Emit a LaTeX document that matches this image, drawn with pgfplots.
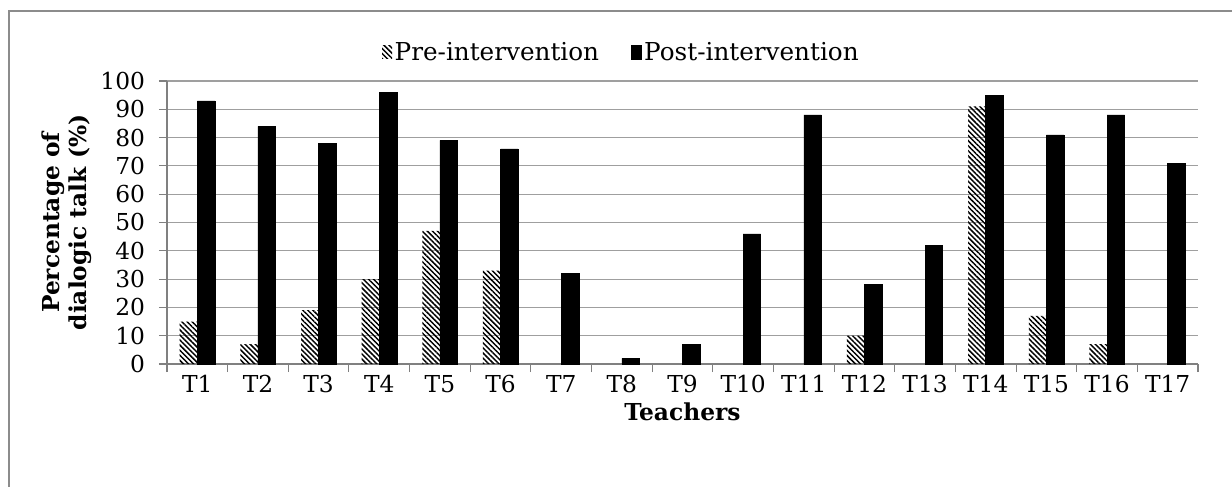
\documentclass[border=0pt]{standalone}
\usepackage{fontspec}
\setmainfont{DejaVu Serif}
\usepackage{pgfplots}
\pgfplotsset{compat=1.18}
\usetikzlibrary{patterns.meta}
\begin{document}
\begin{tikzpicture}[x=0.75pt,y=0.75pt]
\useasboundingbox (0,0) rectangle (1232,486);
\draw[gray!90, line width=1.5pt] (9,-5) -- (9,475) -- (1240,475);
\begin{axis}[
  at={(125.25pt,91.5pt)}, anchor=south west,
  scale only axis, width=773.25pt, height=212.25pt,
  ybar=0pt, bar width=0.29,
  ymin=0, ymax=100, ytick={0,10,...,100},
  xmin=0.5, xmax=17.5, xtick={1,...,17},
  xticklabels={T1,T2,T3,T4,T5,T6,T7,T8,T9,T10,T11,T12,T13,T14,T15,T16,T17},
  minor xtick={0.5,1.5,...,17.5},
  major x tick style={draw=none},
  tick align=outside,
  major tick length=6pt, minor tick length=6pt,
  tick style={gray, line width=0.8pt},
  axis x line*=bottom, axis y line*=left,
  axis line style={gray, line width=0.9pt, -},
  ymajorgrids, major grid style={gray!75, line width=0.9pt},
  /pgf/number format/assume math mode=true,
  tick label style={font=\fontsize{17.5}{20}\selectfont},
  yticklabel style={xshift=-7pt},
  xticklabel style={yshift=1pt},
  xlabel={Teachers},
  xlabel style={font=\fontsize{17.5}{20}\selectfont\bfseries,
    at={(axis description cs:0.5,-0.168)}, anchor=center},
  ylabel={Percentage of\\dialogic talk (\%)},
  ylabel style={font=\fontsize{17.5}{20}\selectfont\bfseries, align=center,
    at={(axis description cs:-0.097,0.5)}, anchor=center},
  legend style={at={(0.441,1.102)}, anchor=center, draw=none, fill=none,
    legend columns=2, font=\fontsize{18.5}{21}\selectfont,
    /tikz/every even column/.append style={column sep=22pt}},
  legend image code/.code={\fill[#1] (0pt,-5pt) rectangle (7.5pt,5pt);},
]
\addplot[draw=none, pattern={Lines[angle=-45, distance=2.7pt, line width=1.1pt]}]
  coordinates {(1,15) (2,7) (3,19) (4,30) (5,47) (6,33) (12,10) (14,91) (15,17) (16,7)};
\addlegendentry{Pre-intervention}
\addplot[draw=black, fill=black]
  coordinates {(1,93) (2,84) (3,78) (4,96) (5,79) (6,76) (7,32) (8,2) (9,7) (10,46) (11,88) (12,28) (13,42) (14,95) (15,81) (16,88) (17,71)};
\addlegendentry{Post-intervention}
\end{axis}
\end{tikzpicture}
\end{document}
